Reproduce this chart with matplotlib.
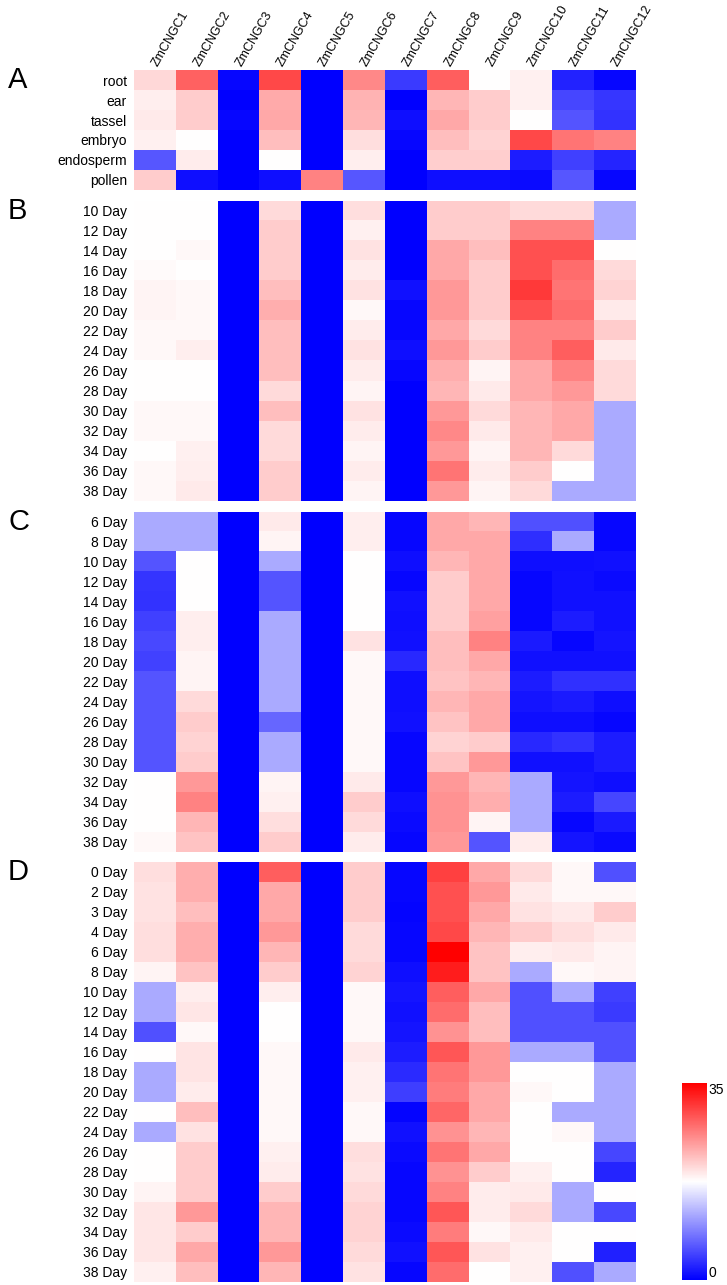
import numpy as np
import matplotlib.pyplot as plt

plt.rcParams['font.family'] = ['Liberation Sans', 'DejaVu Sans']

genes = ['ZmCNGC1', 'ZmCNGC2', 'ZmCNGC3', 'ZmCNGC4', 'ZmCNGC5', 'ZmCNGC6',
         'ZmCNGC7', 'ZmCNGC8', 'ZmCNGC9', 'ZmCNGC10', 'ZmCNGC11', 'ZmCNGC12']

# panel A: tissues
rows_a = ['root', 'ear', 'tassel', 'embryo', 'endosperm', 'pollen']
vals_a = [
    [20.2, 28.2, 0.5, 30.0, 0.0, 25.7, 4.1, 28.5, 17.5, 18.5, 2.4, 0.5],
    [18.7, 21.0, 0.0, 23.3, 0.0, 22.6, 0.0, 22.5, 21.0, 18.5, 4.8, 3.8],
    [19.0, 21.0, 0.5, 23.5, 0.0, 22.5, 1.0, 23.5, 21.0, 17.5, 5.8, 3.5],
    [18.5, 17.5, 0.0, 22.0, 0.0, 19.8, 0.5, 22.0, 20.5, 30.0, 27.0, 26.0],
    [6.0, 18.8, 0.0, 17.5, 0.0, 18.7, 0.0, 20.8, 20.8, 2.0, 4.5, 2.5],
    [21.0, 1.0, 0.0, 1.0, 26.0, 6.0, 0.0, 1.0, 1.0, 0.8, 6.0, 0.5],
]

# panel B
rows_b = ['10 Day', '12 Day', '14 Day', '16 Day', '18 Day', '20 Day', '22 Day', '24 Day',
          '26 Day', '28 Day', '30 Day', '32 Day', '34 Day', '36 Day', '38 Day']
vals_b = [
    [17.5, 17.5, 0, 20.0, 0, 19.8, 0.0, 21.0, 21.0, 20.0, 20.0, 11.7],
    [17.5, 17.5, 0, 21.0, 0, 18.5, 0.0, 21.0, 21.0, 26.0, 26.0, 11.7],
    [17.5, 18.0, 0, 21.0, 0, 19.5, 0.0, 23.5, 22.0, 29.5, 29.5, 17.5],
    [17.8, 17.5, 0, 21.0, 0, 18.8, 0.0, 23.5, 21.0, 29.5, 27.5, 20.0],
    [18.3, 18.0, 0, 22.0, 0, 19.5, 1.2, 24.5, 21.0, 31.0, 27.0, 20.5],
    [18.3, 18.0, 0, 23.0, 0, 18.0, 0.5, 24.5, 21.0, 29.5, 27.5, 19.0],
    [18.0, 18.0, 0, 22.0, 0, 18.8, 0.5, 23.5, 20.0, 26.0, 26.0, 21.0],
    [18.0, 18.7, 0, 22.0, 0, 19.5, 1.0, 24.5, 21.0, 26.0, 28.5, 19.0],
    [17.5, 17.5, 0, 22.0, 0, 18.8, 0.5, 23.0, 18.3, 23.5, 26.0, 20.0],
    [17.5, 17.5, 0, 20.0, 0, 18.2, 0.0, 22.5, 19.0, 23.5, 24.5, 20.0],
    [18.0, 18.0, 0, 22.0, 0, 19.5, 0.0, 24.5, 20.0, 22.5, 23.5, 11.7],
    [18.0, 18.0, 0, 20.0, 0, 18.8, 0.0, 25.7, 19.0, 22.5, 23.5, 11.7],
    [17.5, 18.5, 0, 20.0, 0, 18.2, 0.0, 24.5, 18.2, 22.5, 20.0, 11.7],
    [18.0, 18.7, 0, 21.0, 0, 18.8, 0.0, 27.0, 18.8, 21.0, 17.5, 11.7],
    [18.0, 19.0, 0, 21.0, 0, 18.2, 0.0, 24.5, 18.2, 20.0, 11.7, 11.7],
]

# panel C
rows_c = ['6 Day', '8 Day', '10 Day', '12 Day', '14 Day', '16 Day', '18 Day', '20 Day', '22 Day',
          '24 Day', '26 Day', '28 Day', '30 Day', '32 Day', '34 Day', '36 Day', '38 Day']
vals_c = [
    [11.7, 11.7, 0, 19.0, 0, 18.7, 0.5, 23.5, 22.5, 5.5, 5.5, 0.5],
    [11.7, 11.7, 0, 18.3, 0, 18.7, 0.5, 23.5, 23.5, 3.2, 11.7, 0.5],
    [5.8, 17.5, 0, 11.7, 0, 17.5, 1.0, 22.5, 23.5, 1.0, 1.0, 1.2],
    [3.6, 17.5, 0, 5.8, 0, 17.5, 0.5, 21.0, 23.5, 0.5, 1.2, 0.8],
    [3.5, 17.5, 0, 5.8, 0, 17.5, 1.2, 21.0, 23.5, 0.5, 1.2, 1.2],
    [4.5, 18.7, 0, 11.7, 0, 17.5, 1.0, 21.0, 24.0, 0.5, 2.0, 1.2],
    [5.0, 18.7, 0, 11.7, 0, 19.5, 1.2, 22.0, 26.0, 1.8, 0.5, 1.5],
    [4.6, 18.2, 0, 11.7, 0, 18.0, 2.8, 22.0, 23.5, 1.2, 1.2, 1.2],
    [5.8, 18.2, 0, 11.7, 0, 18.0, 1.0, 21.5, 22.5, 2.0, 3.3, 3.3],
    [5.8, 20.0, 0, 11.7, 0, 18.0, 1.0, 22.5, 23.5, 1.5, 1.8, 1.0],
    [5.8, 21.0, 0, 7.0, 0, 18.0, 1.2, 21.5, 23.5, 1.0, 1.0, 0.5],
    [5.8, 20.5, 0, 11.7, 0, 18.0, 0.5, 20.5, 21.0, 2.8, 3.5, 2.0],
    [5.8, 21.0, 0, 11.7, 0, 18.0, 0.5, 21.5, 24.5, 1.2, 1.2, 2.0],
    [17.5, 24.5, 0, 18.3, 0, 19.0, 0.5, 24.5, 22.5, 11.7, 1.5, 1.0],
    [17.5, 26.0, 0, 18.5, 0, 21.0, 1.0, 25.0, 23.0, 11.7, 2.0, 4.8],
    [17.5, 22.5, 0, 19.8, 0, 20.0, 0.8, 25.0, 18.3, 11.7, 0.5, 1.8],
    [18.0, 21.5, 0, 21.0, 0, 18.8, 0.5, 24.5, 5.8, 18.8, 1.5, 0.8],
]

# panel D
rows_d = ['0 Day', '2 Day', '3 Day', '4 Day', '6 Day', '8 Day', '10 Day', '12 Day', '14 Day',
          '16 Day', '18 Day', '20 Day', '22 Day', '24 Day', '26 Day', '28 Day', '30 Day',
          '32 Day', '34 Day', '36 Day', '38 Day']
vals_d = [
    [19.8, 23.0, 0, 28.5, 0, 21.0, 0.5, 30.5, 23.5, 20.0, 18.0, 5.5],
    [19.5, 23.0, 0, 23.5, 0, 21.0, 0.5, 29.5, 24.5, 19.0, 18.0, 18.0],
    [19.5, 22.0, 0, 23.5, 0, 21.0, 0.3, 29.5, 23.5, 19.5, 19.0, 21.0],
    [19.8, 23.0, 0, 24.5, 0, 20.0, 0.5, 30.0, 22.5, 21.0, 19.8, 19.0],
    [19.8, 23.0, 0, 22.5, 0, 20.0, 0.5, 35.0, 21.5, 18.7, 19.0, 18.3],
    [18.2, 21.5, 0, 21.0, 0, 20.5, 1.0, 33.0, 21.5, 11.7, 18.0, 18.3],
    [11.7, 18.7, 0, 18.7, 0, 18.0, 1.5, 28.5, 23.5, 5.5, 11.7, 4.5],
    [11.7, 19.2, 0, 17.5, 0, 18.0, 1.2, 27.5, 22.0, 5.5, 5.5, 4.0],
    [5.5, 18.0, 0, 17.5, 0, 18.0, 1.5, 25.0, 22.0, 5.5, 5.5, 5.5],
    [17.5, 19.3, 0, 18.0, 0, 19.0, 2.0, 29.0, 24.5, 11.7, 11.7, 5.5],
    [11.7, 19.3, 0, 18.0, 0, 18.5, 3.0, 27.0, 24.5, 17.5, 17.5, 11.7],
    [11.7, 18.8, 0, 18.0, 0, 18.5, 4.3, 26.5, 23.5, 18.0, 17.5, 11.7],
    [17.5, 22.0, 0, 18.0, 0, 18.0, 0.3, 28.0, 23.5, 17.5, 11.7, 11.7],
    [11.7, 19.5, 0, 18.0, 0, 18.0, 1.2, 25.0, 22.5, 17.5, 18.0, 11.7],
    [17.5, 21.0, 0, 18.5, 0, 19.8, 0.8, 27.0, 23.5, 17.5, 17.5, 4.8],
    [17.5, 21.0, 0, 18.8, 0, 19.5, 0.5, 25.0, 21.0, 18.5, 17.5, 2.5],
    [18.2, 21.0, 0, 21.0, 0, 20.0, 0.5, 26.0, 18.8, 19.0, 11.7, 17.5],
    [19.2, 24.5, 0, 22.5, 0, 20.5, 0.5, 29.0, 18.8, 20.0, 11.7, 5.0],
    [19.2, 21.0, 0, 22.5, 0, 20.5, 0.8, 26.5, 18.0, 19.0, 17.5, 17.5],
    [19.2, 23.5, 0, 24.5, 0, 20.0, 1.2, 29.0, 19.5, 18.5, 17.5, 2.3],
    [18.5, 22.0, 0, 22.5, 0, 19.5, 0.5, 27.5, 17.5, 18.5, 5.5, 11.7],
]

W, H = 727, 1285
fig = plt.figure(figsize=(W / 100, H / 100), dpi=100)

# pixel extents of each block (top, bottom)
panels = [('A', rows_a, vals_a, 70, 190),
          ('B', rows_b, vals_b, 201, 501),
          ('C', rows_c, vals_c, 512, 852),
          ('D', rows_d, vals_d, 862, 1282)]
x0, x1 = 134, 636

for i, (letter, rows, vals, top, bot) in enumerate(panels):
    ax = fig.add_axes([x0 / W, 1 - bot / H, (x1 - x0) / W, (bot - top) / H])
    im = ax.imshow(np.array(vals), cmap='bwr', vmin=0, vmax=35, aspect='auto',
                   interpolation='nearest')
    ax.set_yticks(range(len(rows)))
    ax.set_yticklabels(rows, fontsize=10)
    ax.tick_params(length=0, pad=5)
    if i == 0:
        ax.xaxis.tick_top()
        ax.set_xticks(range(len(genes)))
        ax.set_xticklabels(genes, rotation=60, ha='left', va='center',
                           rotation_mode='anchor', fontsize=9)
        ax.tick_params(axis='x', pad=3)
    else:
        ax.set_xticks([])
    for s in ax.spines.values():
        s.set_visible(False)
    fig.text(8 / W, 1 - (top - 4) / H, letter, fontsize=21, ha='left', va='top')

cax = fig.add_axes([682 / W, 1 - 1280 / H, 25 / W, 197 / H])
cb = fig.colorbar(im, cax=cax, ticks=[0, 35])
cb.outline.set_visible(False)
cax.tick_params(length=0, pad=1, labelsize=10)
cax.set_yticklabels(['0', '35'])
cax.get_yticklabels()[0].set_va('bottom')
cax.get_yticklabels()[1].set_va('top')

fig.savefig('out.png', dpi=100)
